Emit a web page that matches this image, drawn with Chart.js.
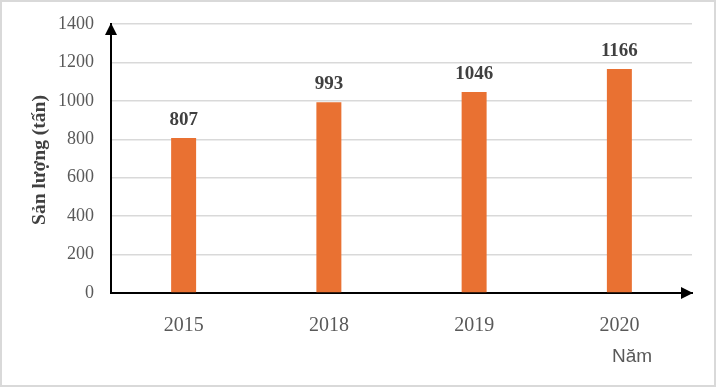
<!DOCTYPE html>
<html>
<head>
<meta charset="utf-8">
<script src="https://cdn.jsdelivr.net/npm/chart.js@4"></script>
<style>
  html, body { margin: 0; padding: 0; background: #fff; }
  #wrap { position: relative; width: 716px; height: 387px; box-sizing: border-box; border: 2px solid #d9d9d9; }
  #c { position: absolute; left: -2px; top: -2px; }
</style>
</head>
<body>
<div id="wrap"><canvas id="c" width="716" height="387"></canvas></div>
<script>
// data
const years = ['2015', '2018', '2019', '2020'];
const output = [807, 993, 1046, 1166];
const yTicks = [0, 200, 400, 600, 800, 1000, 1200, 1400];

const serif = '"Liberation Serif", "Times New Roman", serif';

// arrows, value labels, axis titles
const extras = {
    id: 'extras',
    afterDatasetsDraw(chart) {
        const ctx = chart.ctx;
        const area = chart.chartArea;
        ctx.save();
        ctx.fillStyle = '#000';
        // y arrow head
        ctx.beginPath();
        ctx.moveTo(area.left, area.top - 1);
        ctx.lineTo(area.left - 6, area.top + 11);
        ctx.lineTo(area.left + 6, area.top + 11);
        ctx.closePath();
        ctx.fill();
        // x arrow head
        ctx.beginPath();
        ctx.moveTo(area.right + 1, area.bottom);
        ctx.lineTo(area.right - 11, area.bottom - 6);
        ctx.lineTo(area.right - 11, area.bottom + 6);
        ctx.closePath();
        ctx.fill();

        // value labels
        const meta = chart.getDatasetMeta(0);
        ctx.font = 'bold 19px ' + serif;
        ctx.fillStyle = '#404040';
        ctx.textAlign = 'center';
        ctx.textBaseline = 'alphabetic';
        meta.data.forEach((bar, i) => {
            ctx.fillText(output[i], bar.x, bar.y - 13);
        });

        // y title
        ctx.save();
        ctx.translate(40, 160);
        ctx.rotate(-Math.PI / 2);
        ctx.font = 'bold 19.5px ' + serif;
        ctx.fillStyle = '#404040';
        ctx.textAlign = 'center';
        ctx.textBaseline = 'middle';
        ctx.fillText('Sản lượng (tấn)', 0, 0);
        ctx.restore();

        // x title
        ctx.font = '19px "Liberation Sans", Arial, sans-serif';
        ctx.fillStyle = '#595959';
        ctx.textAlign = 'center';
        ctx.textBaseline = 'middle';
        ctx.fillText('Năm', 632, 357);
        ctx.restore();
    }
};

new Chart(document.getElementById('c'), {
    type: 'bar',
    data: {
        labels: years,
        datasets: [{
            data: output,
            backgroundColor: '#E97132',
            categoryPercentage: 1,
            barPercentage: 0.172
        }]
    },
    options: {
        responsive: false,
        animation: false,
        layout: { padding: { top: 24, right: 24, left: 0, bottom: 0 } },
        plugins: { legend: { display: false }, tooltip: { enabled: false } },
        scales: {
            x: {
                grid: { display: false },
                border: { color: '#000', width: 2 },
                ticks: { color: '#595959', font: { family: serif, size: 20 }, padding: 13 },
                afterFit(scale) {
                    scale.height = 94;
                    scale.paddingLeft = 0;
                    scale.paddingRight = 0;
                }
            },
            y: {
                min: 0,
                max: 1400,
                afterBuildTicks(scale) { scale.ticks = yTicks.map(v => ({ value: v })); },
                grid: { color: '#d9d9d9', lineWidth: 1.5, drawTicks: false },
                border: { color: '#000', width: 2 },
                ticks: {
                    color: '#595959',
                    font: { family: serif, size: 18 },
                    padding: 17,
                    callback: v => String(v)
                },
                afterFit(scale) {
                    scale.width = 111;
                    scale.paddingTop = 0;
                    scale.paddingBottom = 0;
                }
            }
        }
    },
    plugins: [extras]
});
</script>
</body>
</html>
